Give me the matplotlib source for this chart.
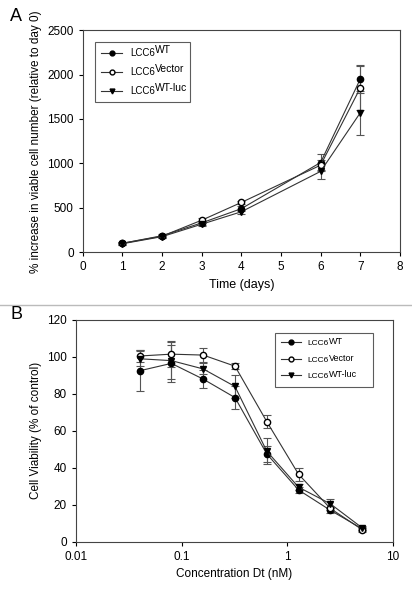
import matplotlib
matplotlib.use("Agg")
import matplotlib.pyplot as plt
from matplotlib.lines import Line2D
from matplotlib.ticker import FixedLocator, FixedFormatter, NullLocator

plt.rcParams['font.family'] = ['Liberation Sans', 'DejaVu Sans']

# panel A: growth over time
days = [1, 2, 3, 4, 6, 7]
wt_a = [100, 185, 330, 490, 1010, 1950]
wt_a_err = [15, 15, 20, 25, 100, 160]
vec_a = [100, 180, 360, 560, 980, 1850]
vec_a_err = [10, 15, 20, 20, 60, 250]
luc_a = [95, 175, 315, 455, 910, 1570]
luc_a_err = [10, 15, 15, 25, 90, 250]

# panel B: viability vs concentration
conc = [0.04, 0.08, 0.16, 0.32, 0.64, 1.28, 2.56, 5.12]
wt_b = [92.5, 96.5, 88, 78, 47.5, 28, 17, 7]
wt_b_err = [11, 10, 5, 6, 4.5, 1.5, 1.5, 1]
vec_b = [100.5, 101.5, 101, 95, 65, 36.5, 18, 6.5]
vec_b_err = [3, 7, 4, 1.5, 3.5, 3.5, 1, 1]
luc_b = [99, 98, 93.5, 84, 49, 29.5, 20.5, 7.5]
luc_b_err = [4, 10, 3, 6, 7, 1.5, 2.5, 1]

base_label = "LCC6"
sup_labels = ["WT", "Vector", "WT-luc"]
styles = [
    dict(marker='o', mfc='black', mec='black'),
    dict(marker='o', mfc='white', mec='black'),
    dict(marker='v', mfc='black', mec='black'),
]

fig = plt.figure(figsize=(4.12, 5.92), dpi=100)
axA = fig.add_axes([0.2007, 0.574, 0.770, 0.375])
axB = fig.add_axes([0.1845, 0.085, 0.769, 0.3745])

def draw(ax, x, series):
    for (y, e), st in zip(series, styles):
        ax.errorbar(x, y, yerr=e, color='#333333', lw=0.8, ms=4.5,
                    ecolor='#555555', elinewidth=0.8, capsize=3, capthick=0.8, **st)

draw(axA, days, [(wt_a, wt_a_err), (vec_a, vec_a_err), (luc_a, luc_a_err)])
draw(axB, conc, [(wt_b, wt_b_err), (vec_b, vec_b_err), (luc_b, luc_b_err)])

axA.set_xlim(0, 8)
axA.set_ylim(0, 2500)
axA.set_xticks(range(0, 9))
axA.set_yticks(range(0, 2501, 500))
axA.set_xlabel("Time (days)", fontsize=9)
axA.set_ylabel("% increase in viable cell number (relative to day 0)", fontsize=8.5)

axB.set_xscale('log')
axB.set_xlim(0.01, 10)
axB.set_ylim(0, 120)
axB.xaxis.set_major_locator(FixedLocator([0.01, 0.1, 1, 10]))
axB.xaxis.set_major_formatter(FixedFormatter(["0.01", "0.1", "1", "10"]))
axB.xaxis.set_minor_locator(NullLocator())
axB.set_yticks(range(0, 121, 20))
axB.set_xlabel("Concentration Dt (nM)", fontsize=8.5)
axB.set_ylabel("Cell Viability (% of control)", fontsize=8.5)

for ax in (axA, axB):
    ax.tick_params(direction='out', length=3, width=0.8, labelsize=8.5, top=False, right=False)
    for s in ax.spines.values():
        s.set_color('#444444')
        s.set_linewidth(0.8)

handles = [Line2D([], [], color='#333333', lw=0.8, ms=3.5, **st) for st in styles]

def legend_with_sup(ax, fs, sup_fs, **kw):
    # legend holds "LCC6", the superscript is put right after it (nearly same size as original)
    leg = ax.legend(handles, [base_label] * 3, fontsize=fs, frameon=True, mode='expand',
                    fancybox=False, edgecolor='#333333', borderaxespad=0, **kw)
    leg.get_frame().set_linewidth(0.8)
    for t, s in zip(leg.get_texts(), sup_labels):
        ax.annotate(s, xy=(1, 1), xycoords=t, xytext=(0.2, -1.2),
                    textcoords='offset points', fontsize=sup_fs, va='center', ha='left',
                    zorder=10)
    return leg

legend_with_sup(axA, 7, 7.5, loc='upper left', bbox_to_anchor=(0.039, 0.746, 0.30, 0.2),
                handlelength=2.2, handletextpad=0.8, borderpad=0.6, labelspacing=0.95)
legend_with_sup(axB, 6, 6.5, loc='upper left', bbox_to_anchor=(0.627, 0.741, 0.31, 0.2),
                handlelength=2.4, handletextpad=0.8, borderpad=0.75, labelspacing=1.05)

fig.text(0.025, 0.972, "A", fontsize=13, va='center')
fig.text(0.025, 0.468, "B", fontsize=13, va='center')
fig.add_artist(Line2D([0, 1], [1 - 305 / 592] * 2, color='#bbbbbb', lw=1))

fig.savefig("out.png", dpi=100)
